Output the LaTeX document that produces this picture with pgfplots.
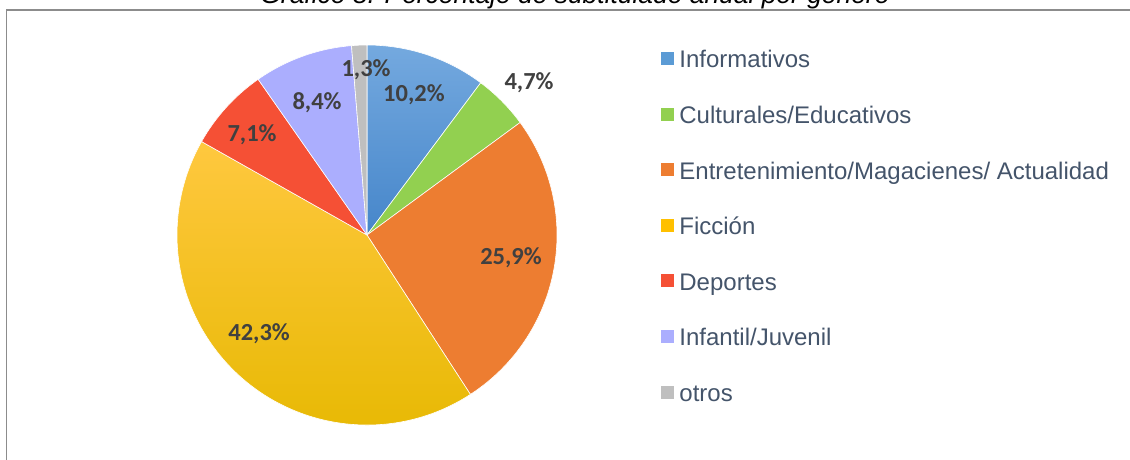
\documentclass[border=0pt]{standalone}
\usepackage{pgfplots}
\usepackage{pgfplotstable}
\pgfplotsset{compat=1.18}
\usepackage{fontspec}
\setmainfont{Liberation Sans}
\newfontfamily\carlito{Carlito}

% colores de cada sector: arriba (a) y abajo (b) del degradado
\definecolor{pc0}{HTML}{5B9BD5}
\definecolor{pc0a}{HTML}{74A9DF}
\definecolor{pc0b}{HTML}{4686CA}
\definecolor{pc1}{HTML}{92D050}
\colorlet{pc1a}{pc1}\colorlet{pc1b}{pc1}
\definecolor{pc2}{HTML}{ED7D31}
\colorlet{pc2a}{pc2}\colorlet{pc2b}{pc2}
\definecolor{pc3}{HTML}{FFC000}
\definecolor{pc3a}{HTML}{FFC83F}
\definecolor{pc3b}{HTML}{E6B800}
\definecolor{pc4}{HTML}{F55035}
\colorlet{pc4a}{pc4}\colorlet{pc4b}{pc4}
\definecolor{pc5}{HTML}{ABAEFE}
\colorlet{pc5a}{pc5}\colorlet{pc5b}{pc5}
\definecolor{pc6}{HTML}{BFBFBF}
\colorlet{pc6a}{pc6}\colorlet{pc6b}{pc6}
\definecolor{legtext}{HTML}{44546A}
\definecolor{labtext}{HTML}{404040}
\definecolor{framecol}{HTML}{8C8C8C}

% valor (%) y posicion de la etiqueta (unidades del eje, radio = 1)
\pgfplotstableread{
val  lx     ly
10.2  0.247  0.737
4.7   0.853  0.800
25.9  0.758 -0.121
42.3 -0.568 -0.521
7.1  -0.605  0.526
8.4  -0.263  0.695
1.3  -0.005  0.868
}\piedata

% angulos de cada sector, empezando arriba y en sentido horario
\def\cum{90}
\foreach \i in {0,...,6}{%
  \pgfplotstablegetelem{\i}{val}\of\piedata
  \pgfmathsetmacro\sweep{\pgfplotsretval*360/99.9}%
  \pgfmathsetmacro\endang{\cum-\sweep}%
  \expandafter\xdef\csname sA\i\endcsname{\cum}%
  \expandafter\xdef\csname sB\i\endcsname{\endang}%
  \xdef\cum{\endang}%
}

\begin{document}
\begin{tikzpicture}
\useasboundingbox (0pt,0pt) rectangle (1130pt,-460pt);
\clip (0pt,0pt) rectangle (1130pt,-460pt);
\draw[framecol, line width=1.3pt] (6.5pt,-470pt) -- (6.5pt,-10pt) -- (1140pt,-10pt);
\node[anchor=base, font=\fontsize{26.4}{30}\selectfont\itshape] at (575pt,-4pt)
  {Gráfico 8. Porcentaje de subtitulado anual por género};

\begin{axis}[
    at={(367pt,-235pt)}, anchor=center,
    width=380pt, height=380pt, scale only axis,
    xmin=-1, xmax=1, ymin=-1, ymax=1,
    hide axis, clip=false,
    legend image code/.code={\fill[#1, draw=none] (0pt,-3pt) rectangle (13pt,10pt);
      \path (18pt,0pt);},
    legend cell align=left,
    legend style={at={(1.2737,0.985)}, anchor=north west, draw=none, fill=none,
      font=\fontsize{24}{28}\selectfont, text=legtext, row sep=33.6pt,
      inner sep=0pt,
      nodes={inner sep=0pt, text height=17pt, text depth=5pt}},
  ]
  \pgfplotsinvokeforeach{0,...,6}{%
    \shade[top color=pc#1a, bottom color=pc#1b, draw=white, line width=0.6pt] (axis cs:0,0)
      -- (axis cs:{cos(\csname sA#1\endcsname)},{sin(\csname sA#1\endcsname)})
      arc[start angle=\csname sA#1\endcsname, end angle=\csname sB#1\endcsname, radius=190pt]
      -- cycle;
  }

  \addlegendimage{fill=pc0}\addlegendentry{Informativos}
  \addlegendimage{fill=pc1}\addlegendentry{Culturales/Educativos}
  \addlegendimage{fill=pc2}\addlegendentry{Entretenimiento/Magacienes/ Actualidad}
  \addlegendimage{fill=pc3}\addlegendentry{Ficción}
  \addlegendimage{fill=pc4}\addlegendentry{Deportes}
  \addlegendimage{fill=pc5}\addlegendentry{Infantil/Juvenil}
  \addlegendimage{fill=pc6}\addlegendentry{otros}

  \addplot[draw=none, mark=none, forget plot,
    point meta=explicit,
    nodes near coords={\pgfmathprintnumber[fixed,fixed zerofill,precision=1,use comma,assume math mode=true]{\pgfplotspointmeta}\%},
    every node near coord/.append style={anchor=center, inner sep=0pt,
      font=\carlito\bfseries\fontsize{24.5}{28}\selectfont, text=labtext}]
    table[x=lx, y=ly, meta=val] {\piedata};
\end{axis}
\end{tikzpicture}
\end{document}
